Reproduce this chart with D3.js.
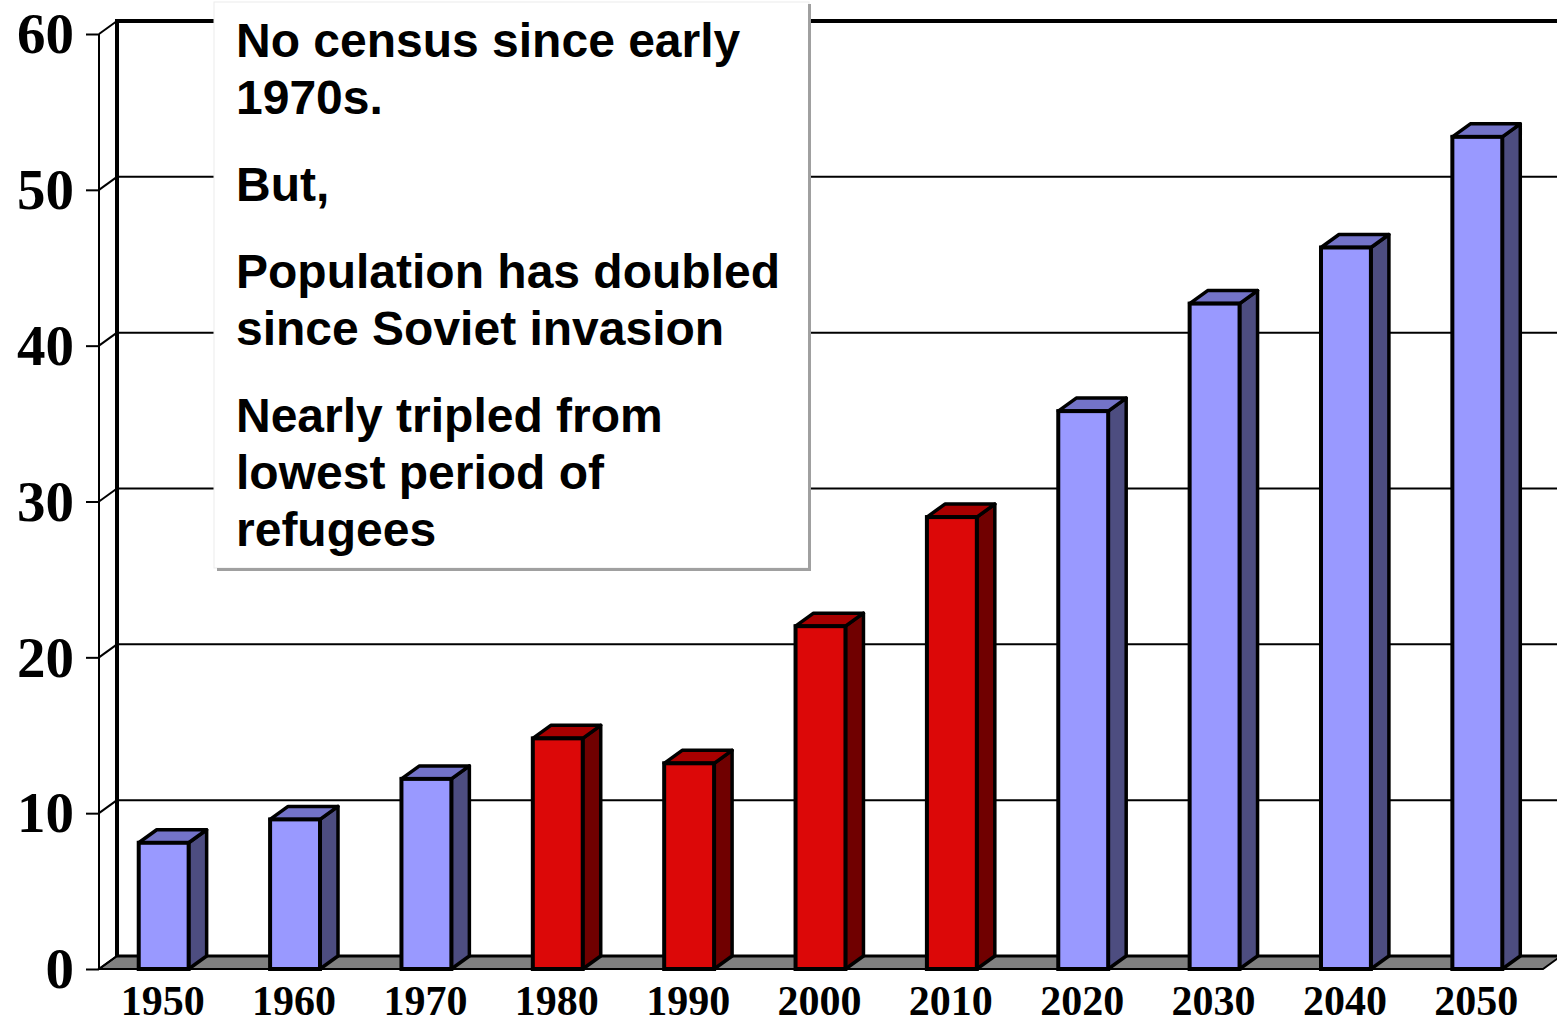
<!DOCTYPE html>
<html>
<head>
	<title>Population</title>
	<script src="https://d3js.org/d3.v7.min.js"></script>
	<style>
	body{
		margin: 0;
		background: #FFFFFF;
	}
	.ylab{
		font-family: "Liberation Serif", "Times New Roman", serif;
		font-weight: bold;
		font-size: 57px;
	}
	.xlab{
		font-family: "Liberation Serif", "Times New Roman", serif;
		font-weight: bold;
		font-size: 42px;
	}
	.note{
		font-family: "Liberation Sans", Arial, sans-serif;
		font-weight: bold;
		font-size: 48px;
	}
	</style>
</head>
<body>
	<div id="chart"></div>
	<script>
		var years = ["1950","1960","1970","1980","1990","2000","2010","2020","2030","2040","2050"];
		var population = [8.1, 9.6, 12.2, 14.8, 13.2, 22.0, 29.0, 35.8, 42.7, 46.3, 53.4];
		var isRed = [false, false, false, true, true, true, true, false, false, false, false];
		var yTicks = [0, 10, 20, 30, 40, 50, 60];
		var noteParas = [
			["No census since early", "1970s."],
			["But,"],
			["Population has doubled", "since Soviet invasion"],
			["Nearly tripled from", "lowest period of", "refugees"]
		];

		var width = 1557, height = 1023;
		var depthX = 18, depthY = -13;
		var axisX = 99;

		var svg = d3.select("#chart")
			.append("svg")
			.attr("width", width)
			.attr("height", height);

		var y = d3.scaleLinear().domain([0, 60]).range([969, 34]);
		var x = d3.scaleBand().domain(years).range([98, 1543]);
		var barW = x.bandwidth() * 0.38;

		// floor
		svg.append("polygon")
			.attr("points", [[axisX, y(0)], [x.range()[1], y(0)], [x.range()[1] + depthX, y(0) + depthY], [axisX + depthX, y(0) + depthY]].join(" "))
			.attr("fill", "#808080")
			.attr("stroke", "#000")
			.attr("stroke-width", 2);

		// back wall grid lines
		svg.selectAll(".grid")
			.data(yTicks.filter(function(d){ return d > 0; }))
			.enter().append("line")
			.attr("x1", axisX + depthX)
			.attr("x2", width)
			.attr("y1", function(d){ return y(d) + depthY; })
			.attr("y2", function(d){ return y(d) + depthY; })
			.attr("stroke", "#000")
			.attr("stroke-width", function(d){ return d == 60 ? 4 : 2; });

		svg.append("line")
			.attr("x1", axisX + depthX).attr("x2", axisX + depthX)
			.attr("y1", y(60) + depthY - 2).attr("y2", y(0) + depthY)
			.attr("stroke", "#000")
			.attr("stroke-width", 4);

		svg.append("line")
			.attr("x1", axisX + depthX).attr("x2", width)
			.attr("y1", y(0) + depthY).attr("y2", y(0) + depthY)
			.attr("stroke", "#000")
			.attr("stroke-width", 3);

		// diagonals from front axis to wall
		svg.selectAll(".diag")
			.data(yTicks)
			.enter().append("line")
			.attr("x1", axisX)
			.attr("y1", function(d){ return y(d); })
			.attr("x2", axisX + depthX)
			.attr("y2", function(d){ return y(d) + depthY; })
			.attr("stroke", "#000")
			.attr("stroke-width", 2);

		// front y axis
		var yAxis = d3.axisLeft(y).tickValues(yTicks).tickSize(13).tickFormat(d3.format("d"));
		var yg = svg.append("g")
			.attr("transform", "translate(" + axisX + ",0)")
			.call(yAxis);
		yg.select(".domain").attr("stroke", "#000").attr("stroke-width", 2).attr("d", "M0," + y(0) + "V" + y(60));
		yg.selectAll(".tick line").attr("stroke", "#000").attr("stroke-width", 2);
		yg.selectAll(".tick text")
			.attr("class", "ylab")
			.attr("x", -25)
			.attr("dy", "0.33em")
			.attr("fill", "#000");

		// floor front line
		svg.append("line")
			.attr("x1", axisX).attr("x2", x.range()[1])
			.attr("y1", y(0)).attr("y2", y(0))
			.attr("stroke", "#000")
			.attr("stroke-width", 2);

		// bars
		var bars = years.map(function(d, i){
			return {year: d, v: population[i], red: isRed[i]};
		});

		var g = svg.selectAll(".bar")
			.data(bars)
			.enter().append("g");

		function left(d){ return x(d.year) + x.bandwidth() / 2 - barW / 2; }

		g.append("polygon")
			.attr("points", function(d){
				var x0 = left(d) + barW, t = y(d.v), b = y(0);
				return [[x0, b], [x0, t], [x0 + depthX, t + depthY], [x0 + depthX, b + depthY]].join(" ");
			})
			.attr("fill", function(d){ return d.red ? "#700000" : "#4D4D80"; })
			.attr("stroke", "#000")
			.attr("stroke-width", 3.5)
			.attr("stroke-linejoin", "round");

		g.append("polygon")
			.attr("points", function(d){
				var x0 = left(d), t = y(d.v);
				return [[x0, t], [x0 + barW, t], [x0 + barW + depthX, t + depthY], [x0 + depthX, t + depthY]].join(" ");
			})
			.attr("fill", function(d){ return d.red ? "#A80000" : "#7373C8"; })
			.attr("stroke", "#000")
			.attr("stroke-width", 3.5)
			.attr("stroke-linejoin", "round");

		g.append("rect")
			.attr("x", left)
			.attr("y", function(d){ return y(d.v); })
			.attr("width", barW)
			.attr("height", function(d){ return y(0) - y(d.v); })
			.attr("fill", function(d){ return d.red ? "#DC0808" : "#9999FF"; })
			.attr("stroke", "#000")
			.attr("stroke-width", 4);

		// x labels
		svg.selectAll(".xl")
			.data(years)
			.enter().append("text")
			.attr("class", "xlab")
			.attr("x", function(d){ return x(d) + x.bandwidth() / 2 - 1; })
			.attr("y", 1015)
			.attr("text-anchor", "middle")
			.text(function(d){ return d; });

		// text box
		var box = svg.append("g");
		box.append("rect")
			.attr("x", 214).attr("y", 2)
			.attr("width", 595).attr("height", 566)
			.attr("fill", "#FFFFFF")
			.attr("stroke", "#EBEBEB")
			.attr("stroke-width", 1);
		box.append("path")
			.attr("d", "M809.5,4V569.5H217")
			.attr("fill", "none")
			.attr("stroke", "#A0A0A0")
			.attr("stroke-width", 3);

		var lineH = 57, paraGap = 30, base = 57;
		noteParas.forEach(function(p){
			p.forEach(function(line){
				box.append("text")
					.attr("class", "note")
					.attr("x", 236)
					.attr("y", base)
					.text(line);
				base += lineH;
			});
			base += paraGap;
		});
	</script>
</body>
</html>
